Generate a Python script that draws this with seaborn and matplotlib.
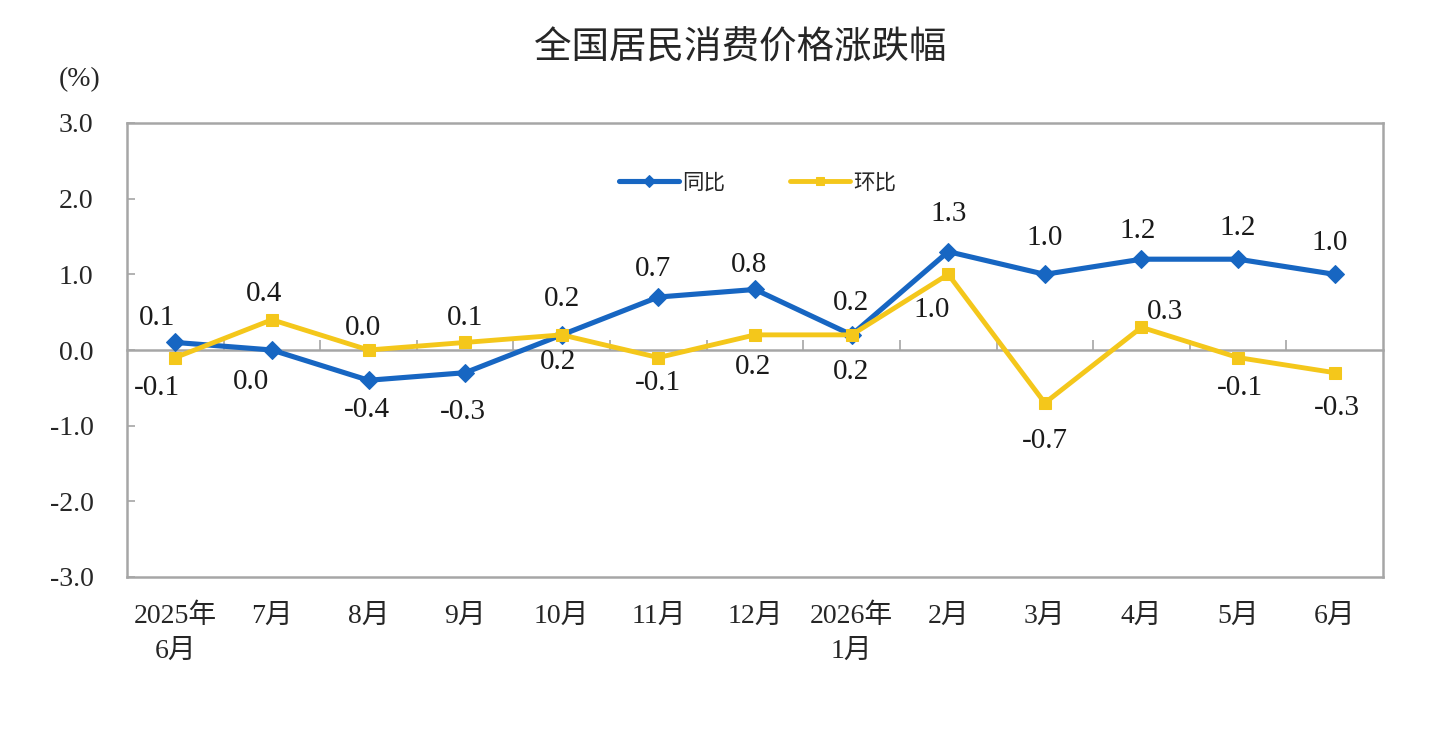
import numpy as np
import pandas as pd
import matplotlib
matplotlib.use("Agg")
import matplotlib.pyplot as plt
import seaborn as sns

# ---------------- data ----------------
months = ["2025年\n6月", "7月", "8月", "9月", "10月", "11月", "12月",
          "2026年\n1月", "2月", "3月", "4月", "5月", "6月"]
yoy = [0.1, 0.0, -0.4, -0.3, 0.2, 0.7, 0.8, 0.2, 1.3, 1.0, 1.2, 1.2, 1.0]   # 同比
mom = [-0.1, 0.4, 0.0, 0.1, 0.2, -0.1, 0.2, 0.2, 1.0, -0.7, 0.3, -0.1, -0.3]  # 环比
series_names = ["同比", "环比"]
y_ticks = [-3.0, -2.0, -1.0, 0.0, 1.0, 2.0, 3.0]
y_tick_labels = ["-3.0", "-2.0", "-1.0", "0.0", "1.0", "2.0", "3.0"]
title = "全国居民消费价格涨跌幅"
unit = "(%)"

# ---------------- styles ----------------
BLUE = "#1766C2"
YELLOW = "#F4C71B"
GREY = "#A6A6A6"
SERIF = ["Liberation Serif", "Noto Sans CJK SC"]
CJK = ["Noto Sans CJK SC", "DejaVu Sans"]

# label offsets in pixels (dx, dy)
yoy_off = [(-18, 24), (-21, -32), (-2, -30), (-2, -39), (-4, -27), (-5, 28), (-6, 24),
           (-1, 32), (0, 38), (0, 36), (-4, 28), (0, 31), (-5, 31)]
mom_off = [(-18, -30), (-8, 26), (-6, 22), (0, 24), (0, 36), (0, -25), (-2, -32),
           (-1, -37), (-17, -36), (0, -38), (24, 15), (2, -30), (2, -35)]

sns.set_theme(style="white")
plt.rcParams["font.family"] = SERIF
plt.rcParams["axes.unicode_minus"] = False

fig = plt.figure(figsize=(14.4, 7.3), dpi=100)
ax = fig.add_axes([127 / 1440, 1 - 577 / 730, 1256 / 1440, 454 / 730])

x = np.arange(len(months))
df = pd.DataFrame({"x": np.concatenate([x, x]),
                   "v": yoy + mom,
                   "s": [series_names[0]] * len(x) + [series_names[1]] * len(x)})

sns.lineplot(data=df[df.s == series_names[0]], x="x", y="v", ax=ax, color=BLUE,
             lw=3.7, marker="D", markersize=9, markeredgecolor=BLUE,
             label=series_names[0], sort=False)
sns.lineplot(data=df[df.s == series_names[1]], x="x", y="v", ax=ax, color=YELLOW,
             lw=3.5, marker="s", markersize=8, markeredgecolor=YELLOW,
             label=series_names[1], sort=False)

# data labels
for xi, v, (dx, dy) in zip(x, yoy, yoy_off):
    ax.annotate(f"{v:.1f}", (xi, v), xytext=(dx, dy), textcoords="offset pixels",
                ha="center", va="center", fontsize=21, family=SERIF, color="#1a1a1a")
for xi, v, (dx, dy) in zip(x, mom, mom_off):
    ax.annotate(f"{v:.1f}", (xi, v), xytext=(dx, dy), textcoords="offset pixels",
                ha="center", va="center", fontsize=21, family=SERIF, color="#1a1a1a")

ax.set_xlim(-0.5, len(months) - 0.5)
ax.set_ylim(y_ticks[0], y_ticks[-1])
ax.set_yticks(y_ticks)
ax.set_yticklabels(y_tick_labels, fontsize=20, family=SERIF)
ax.set_xticks(x)
ax.set_xticklabels(months, fontsize=20, family=SERIF, linespacing=1.5, va="top")
ax.tick_params(axis="y", direction="in", length=6, width=1.2, color=GREY, pad=24, left=True)
ax.tick_params(axis="x", length=0, pad=19)
ax.set_xlabel("")
ax.set_ylabel("")
for sp in ax.spines.values():
    sp.set_visible(True)
    sp.set_color(GREY)
    sp.set_linewidth(1.8)

# zero line with small category separators
sec = ax.secondary_xaxis(0.5)
sec.set_alignment("bottom")
sec.set_xticks(np.arange(0.5, len(months) - 0.5, 1.0))
sec.set_xticklabels([])
sec.tick_params(direction="in", length=7, width=1.2, color=GREY)
for sp in sec.spines.values():
    sp.set_color(GREY)
    sp.set_linewidth(1.8)
ax.set_zorder(1)

leg = ax.legend(loc="center", bbox_to_anchor=(0.502, 0.868), ncol=2, frameon=False,
                prop={"family": CJK, "size": 15.5}, handlelength=2.8,
                handletextpad=0.15, columnspacing=3.0, markerscale=0.7)

fig.text(740 / 1440, 1 - 48 / 730, title, ha="center", va="center",
         fontsize=27, family=CJK)
fig.text(80 / 1440, 1 - 80 / 730, unit, ha="center", va="center",
         fontsize=20, family=SERIF)

fig.savefig("out.png", dpi=100, facecolor="white")
